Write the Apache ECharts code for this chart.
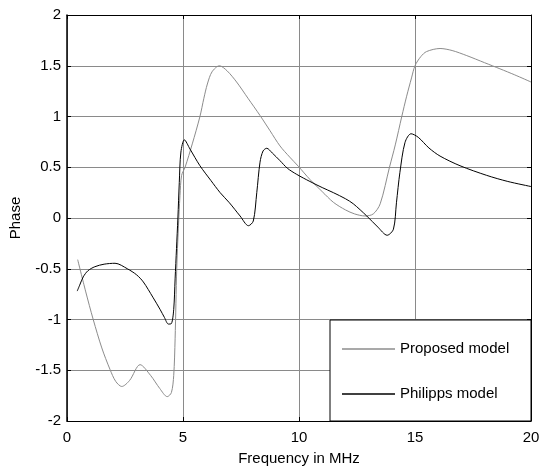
<!DOCTYPE html>
<html>
<head>
<meta charset="utf-8">
<script src="https://cdn.jsdelivr.net/npm/echarts@6/dist/echarts.min.js"></script>
<style>html,body{margin:0;padding:0;background:#fff;}#c{width:540px;height:466px;}</style>
</head>
<body>
<div id="c"></div>
<script>
var xTicks = [0, 5, 10, 15, 20];
var yTicks = [-2, -1.5, -1, -0.5, 0, 0.5, 1, 1.5, 2];
var seriesNames = ['Proposed model', 'Philipps model'];

var proposedX = [0.46, 0.8, 1.13, 1.5, 1.85, 2.1, 2.36, 2.7, 3.15, 3.6, 4.0, 4.32, 4.5, 4.6, 4.66, 4.73, 4.8, 4.87, 4.94, 5.09, 5.4, 5.73, 5.9, 6.05, 6.25, 6.57, 6.9, 7.31, 7.8, 8.32, 8.75, 9.18, 9.6, 9.97, 10.47, 11.0, 11.48, 12.0, 12.4, 12.84, 13.2, 13.5, 13.9, 14.15, 14.43, 14.64, 14.85, 15.0, 15.25, 15.5, 16.08, 16.6, 17.23, 18.0, 18.66, 19.3, 20.0];
var proposedY = [-0.41, -0.72, -1.0, -1.28, -1.49, -1.61, -1.66, -1.6, -1.445, -1.55, -1.68, -1.76, -1.72, -1.55, -1.19, -0.5, -0.1, 0.22, 0.42, 0.5, 0.73, 1.0, 1.18, 1.32, 1.44, 1.50, 1.45, 1.34, 1.18, 1.01, 0.86, 0.71, 0.60, 0.51, 0.38, 0.26, 0.155, 0.08, 0.04, 0.02, 0.04, 0.14, 0.5, 0.72, 1.0, 1.2, 1.38, 1.50, 1.59, 1.64, 1.67, 1.65, 1.60, 1.53, 1.47, 1.41, 1.34];

var philippsX = [0.44, 0.55, 0.7, 0.9, 1.2, 1.6, 2.07, 2.6, 3.0, 3.29, 3.7, 4.01, 4.2, 4.37, 4.5, 4.6, 4.66, 4.72, 4.78, 4.84, 4.91, 5.06, 5.3, 5.73, 6.2, 6.6, 7.0, 7.46, 7.82, 8.03, 8.18, 8.32, 8.45, 8.61, 8.85, 9.18, 9.5, 9.9, 10.47, 11.0, 11.48, 12.0, 12.34, 12.92, 13.4, 13.8, 14.07, 14.2, 14.35, 14.57, 14.83, 15.14, 15.6, 16.08, 16.94, 18.09, 19.0, 20.0];
var philippsY = [-0.72, -0.66, -0.58, -0.52, -0.48, -0.455, -0.446, -0.5, -0.56, -0.63, -0.78, -0.90, -0.98, -1.045, -1.04, -0.9, -0.6, -0.3, 0.0, 0.35, 0.65, 0.77, 0.68, 0.515, 0.37, 0.25, 0.15, 0.02, -0.076, -0.03, 0.25, 0.55, 0.66, 0.687, 0.64, 0.565, 0.49, 0.43, 0.36, 0.3, 0.25, 0.19, 0.14, 0.02, -0.09, -0.17, -0.11, 0.15, 0.45, 0.745, 0.83, 0.795, 0.69, 0.61, 0.515, 0.42, 0.36, 0.31];

function pairs(xs, ys) { return xs.map(function (x, i) { return [x, ys[i]]; }); }

var font = 'Liberation Sans, Arial, sans-serif';
var fs = 15;
var chart = echarts.init(document.getElementById('c'), null, {renderer: 'canvas'});
var axisCommonX = {
  type: 'value', min: xTicks[0], max: xTicks[xTicks.length - 1], interval: 5
};
var axisCommonY = {
  type: 'value', min: yTicks[0], max: yTicks[yTicks.length - 1], interval: 0.5
};
chart.setOption({
  animation: false,
  backgroundColor: '#fff',
  grid: {left: 67, right: 9, top: 15, bottom: 45, containLabel: false, outerBoundsMode: 'none'},
  xAxis: [
    Object.assign({}, axisCommonX, {
      position: 'bottom',
      name: 'Frequency in MHz', nameLocation: 'middle', nameGap: 30,
      nameTextStyle: {fontFamily: font, fontSize: fs, color: '#000'},
      axisLine: {show: true, onZero: false, lineStyle: {color: '#000', width: 1}},
      axisTick: {show: true, inside: true, length: 4, lineStyle: {color: '#000'}},
      axisLabel: {fontFamily: font, fontSize: fs, color: '#000', margin: 9},
      splitLine: {show: true, lineStyle: {color: '#8a8a8a', width: 1}}
    }),
    Object.assign({}, axisCommonX, {
      position: 'top',
      axisLine: {show: true, onZero: false, lineStyle: {color: '#000', width: 1}},
      axisTick: {show: true, inside: true, length: 4, lineStyle: {color: '#000'}},
      axisLabel: {show: false},
      splitLine: {show: false}
    })
  ],
  yAxis: [
    Object.assign({}, axisCommonY, {
      position: 'left',
      name: 'Phase', nameLocation: 'middle', nameGap: 44, nameRotate: 90,
      nameTextStyle: {fontFamily: font, fontSize: fs, color: '#000'},
      axisLine: {show: true, onZero: false, lineStyle: {color: '#000', width: 1.5}},
      axisTick: {show: true, inside: true, length: 4, lineStyle: {color: '#000'}},
      axisLabel: {fontFamily: font, fontSize: fs, color: '#000', margin: 6,
        formatter: function (v) { return String(v); }},
      splitLine: {show: true, lineStyle: {color: '#8a8a8a', width: 1}}
    }),
    Object.assign({}, axisCommonY, {
      position: 'right',
      axisLine: {show: true, onZero: false, lineStyle: {color: '#000', width: 1}},
      axisTick: {show: true, inside: true, length: 4, lineStyle: {color: '#000'}},
      axisLabel: {show: false},
      splitLine: {show: false}
    })
  ],
  legend: {
    left: 330, top: 320,
    orient: 'vertical',
    backgroundColor: '#fff',
    borderColor: '#000', borderWidth: 1,
    padding: [21, 12, 19, 12],
    itemWidth: 53, itemHeight: 1.5, itemGap: 29,
    icon: 'rect',
    textStyle: {fontFamily: font, fontSize: fs, color: '#000', width: 119, lineHeight: 16},
    data: seriesNames
  },
  series: [
    {
      name: seriesNames[0], type: 'line', smooth: 0.3, symbol: 'none',
      lineStyle: {color: '#8c8c8c', width: 1}, itemStyle: {color: '#8c8c8c'},
      data: pairs(proposedX, proposedY), z: 2
    },
    {
      name: seriesNames[1], type: 'line', smooth: 0.3, symbol: 'none',
      lineStyle: {color: '#000', width: 1}, itemStyle: {color: '#000'},
      data: pairs(philippsX, philippsY), z: 3
    }
  ]
});
</script>
</body>
</html>
